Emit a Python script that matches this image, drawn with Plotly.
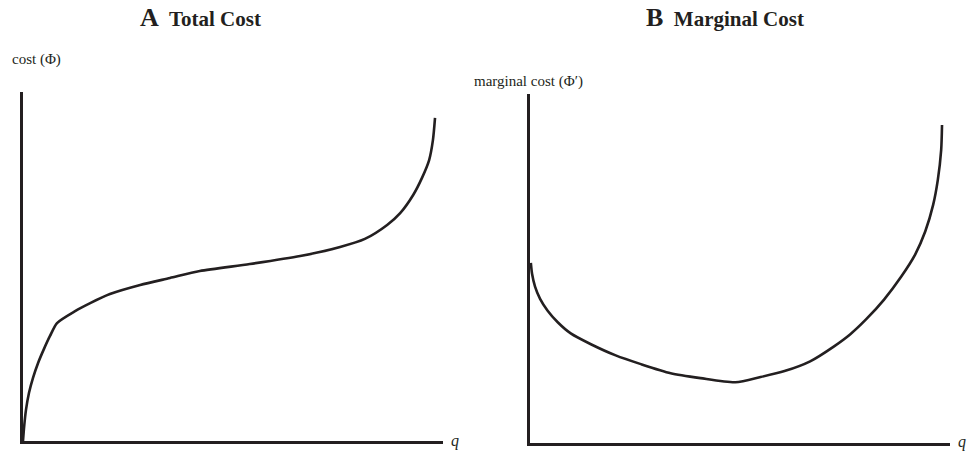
import plotly.graph_objects as go

W, H = 968, 452

# Panel A: total cost curve (q in 0-100 units, cost in 0-100 units)
tc_q = [0.0, 0.24, 0.71, 1.43, 2.38, 3.57, 5.0, 6.43, 8.1, 12.4, 16.0, 20.7, 27.9, 35.0,
        42.1, 54.0, 66.0, 75.5, 81.4, 86.7, 89.8, 92.9, 95.0, 96.7, 97.6, 98.1]
tc_cost = [0.0, 3.7, 8.9, 13.8, 18.1, 22.3, 26.4, 30.1, 33.8, 37.2, 39.5, 42.1, 44.7, 46.7,
           48.7, 50.7, 53.0, 55.6, 57.9, 61.9, 65.3, 70.5, 75.4, 80.5, 86.2, 92.6]

# Panel B: marginal cost curve
mc_q = [0.2, 0.5, 1.2, 2.4, 4.2, 6.6, 9.7, 14.5, 20.4, 26.4, 33.5, 40.6, 48.9, 54.9, 60.6,
        66.7, 72.4, 76.2, 80.0, 84.3, 88.4, 91.7, 94.1, 96.0, 97.1, 97.9, 98.1]
mc_cost = [51.6, 48.4, 44.8, 41.3, 37.9, 34.6, 31.4, 28.3, 25.1, 22.6, 20.0, 18.6, 17.4, 18.9, 20.6,
           23.4, 27.7, 31.1, 35.4, 41.1, 47.7, 54.0, 60.6, 68.3, 75.4, 84.0, 91.1]

titles = ["A", "Total Cost", "B", "Marginal Cost"]
ylabels = ["cost (\u03a6)", "marginal cost (\u03a6\u2032)"]
xlabel = "q"

INK = "#231f20"
FONT = "Liberation Serif, Times New Roman, serif"


def px(x):
    return x / W


def py(y):
    return 1 - y / H


fig = go.Figure()
fig.add_trace(go.Scatter(x=tc_q, y=tc_cost, mode="lines", xaxis="x", yaxis="y",
                         line=dict(color=INK, width=2.6, shape="spline", smoothing=0.7),
                         hoverinfo="skip", showlegend=False))
fig.add_trace(go.Scatter(x=mc_q, y=mc_cost, mode="lines", xaxis="x2", yaxis="y2",
                         line=dict(color=INK, width=2.6, shape="spline", smoothing=0.7),
                         hoverinfo="skip", showlegend=False))

ax_common = dict(showline=True, linewidth=3, linecolor=INK, showgrid=False,
                 zeroline=False, showticklabels=False, ticks="", range=[0, 100],
                 fixedrange=True)

fig.update_layout(
    width=W, height=H, autosize=False,
    margin=dict(l=0, r=0, t=0, b=0),
    paper_bgcolor="white", plot_bgcolor="white",
    font=dict(family=FONT, color=INK),
    hovermode=False,
    xaxis=dict(domain=[px(23), px(443)], anchor="y", **ax_common),
    yaxis=dict(domain=[py(441), py(92)], anchor="x", **ax_common),
    xaxis2=dict(domain=[px(530), px(950)], anchor="y2", **ax_common),
    yaxis2=dict(domain=[py(443), py(94)], anchor="x2", **ax_common),
)

title_fmt = "<b><span style='font-size:26px'>%s</span>  %s</b>"
ann = []
ann.append(dict(x=px(200), y=py(18), xref="paper", yref="paper", showarrow=False,
                text=title_fmt % (titles[0], titles[1]),
                font=dict(size=21, family=FONT, color=INK), xanchor="center", yanchor="middle"))
ann.append(dict(x=px(725), y=py(18), xref="paper", yref="paper", showarrow=False,
                text=title_fmt % (titles[2], titles[3]),
                font=dict(size=21, family=FONT, color=INK), xanchor="center", yanchor="middle"))
ann.append(dict(x=px(10), y=py(60), xref="paper", yref="paper", showarrow=False,
                text=ylabels[0], font=dict(size=15, family=FONT, color=INK),
                xanchor="left", yanchor="middle"))
ann.append(dict(x=px(528), y=py(81), xref="paper", yref="paper", showarrow=False,
                text=ylabels[1], font=dict(size=15, family=FONT, color=INK),
                xanchor="center", yanchor="middle"))
ann.append(dict(x=px(449), y=py(441), xref="paper", yref="paper", showarrow=False,
                text="<i>%s</i>" % xlabel, font=dict(size=16, family=FONT, color=INK),
                xanchor="left", yanchor="middle"))
ann.append(dict(x=px(956), y=py(442), xref="paper", yref="paper", showarrow=False,
                text="<i>%s</i>" % xlabel, font=dict(size=16, family=FONT, color=INK),
                xanchor="left", yanchor="middle"))
fig.update_layout(annotations=ann)

fig.write_html("out.html", config={"displayModeBar": False, "staticPlot": True},
               post_script="document.body.style.margin='0';")
